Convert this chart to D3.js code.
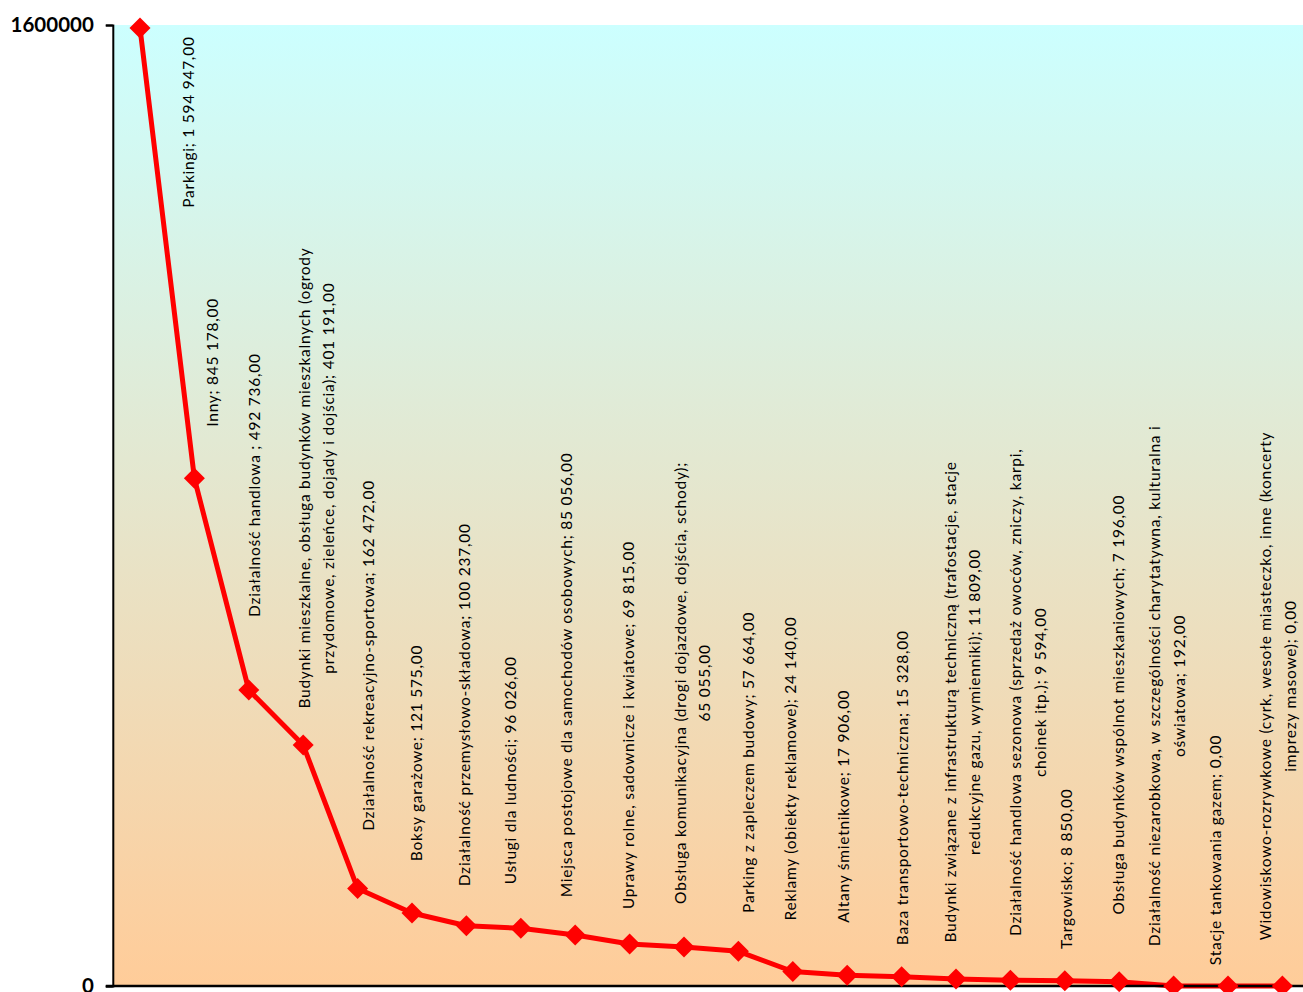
<!DOCTYPE html>
<html>
<head>
<meta charset="utf-8">
<script src="https://cdn.jsdelivr.net/npm/d3@7"></script>
<style>
  html, body { margin: 0; padding: 0; background: #ffffff; }
  svg { display: block; }
</style>
</head>
<body>
<svg id="chart" width="1303" height="992"></svg>
<script>
// ---------------- data ----------------
const categories = [
  "Parkingi",
  "Inny",
  "Działalność handlowa ",
  "Budynki mieszkalne, obsługa budynków mieszkalnych (ogrody przydomowe, zieleńce, dojady i dojścia)",
  "Działalność rekreacyjno-sportowa",
  "Boksy garażowe",
  "Działalność przemysłowo-składowa",
  "Usługi dla ludności",
  "Miejsca postojowe dla samochodów osobowych",
  "Uprawy rolne, sadownicze i kwiatowe",
  "Obsługa komunikacyjna (drogi dojazdowe, dojścia, schody)",
  "Parking z zapleczem budowy",
  "Reklamy (obiekty reklamowe)",
  "Altany śmietnikowe",
  "Baza transportowo-techniczna",
  "Budynki związane z infrastrukturą techniczną (trafostacje, stacje redukcyjne gazu, wymienniki)",
  "Działalność handlowa sezonowa (sprzedaż owoców, zniczy, karpi, choinek itp.)",
  "Targowisko",
  "Obsługa budynków wspólnot mieszkaniowych",
  "Działalność niezarobkowa, w szczególności charytatywna, kulturalna i oświatowa",
  "Stacje tankowania gazem",
  "Widowiskowo-rozrywkowe (cyrk, wesołe miasteczko, inne (koncerty imprezy masowe)"
];
const values = [
  1594947, 845178, 492736, 401191, 162472, 121575, 100237, 96026, 85056,
  69815, 65055, 57664, 24140, 17906, 15328, 11809, 9594, 8850, 7196, 192, 0, 0
];
const yTicks = [0, 1600000];

// word after which a data label wraps to a second line ("" = one line)
const breakAfter = [
  "", "", "", "(ogrody", "", "", "", "", "", "", "schody);", "", "", "", "",
  "stacje", "karpi,", "", "", "i", "", "(koncerty"
];

// ---------------- layout ----------------
const W = 1303, H = 992;
const plotLeft = 112.8, plotTop = 25, plotBottom = 986;
const band = 54.4;
const plotRight = plotLeft + band * categories.length;
// label block centre offset from its point (px)
const labelOffset = [
  [48, 94], [18, -116], [5, -205], [13, -267], [10, -233], [4, -160],
  [-2, -221], [-11, -158], [-9, -260], [-2, -219], [8, -264], [10, -189],
  [-3, -203], [-4, -169], [0, -189], [6, -277], [17, -288], [1, -112],
  [-1, -277], [-7, -300], [-13, -136], [-5, -300]
];
const lineGap = 24.5;
const labelFont = "Lato, 'Open Sans', sans-serif";

const svg = d3.select("#chart");

const x = d3.scaleBand().domain(d3.range(categories.length))
  .range([plotLeft, plotRight]).padding(0);
const y = d3.scaleLinear().domain([0, 1600000]).range([plotBottom, plotTop]);
const cx = i => x(i) + x.bandwidth() / 2;

// background gradient
const defs = svg.append("defs");
const grad = defs.append("linearGradient").attr("id", "bg")
  .attr("x1", 0).attr("y1", 0).attr("x2", 0).attr("y2", 1);
grad.append("stop").attr("offset", "0%").attr("stop-color", "#CCFFFF");
grad.append("stop").attr("offset", "100%").attr("stop-color", "#FFCC99");

svg.append("rect")
  .attr("x", plotLeft).attr("y", plotTop)
  .attr("width", plotRight - plotLeft).attr("height", plotBottom - plotTop)
  .attr("fill", "url(#bg)");

// data labels
const fmtLocale = d3.formatLocale({decimal: ",", thousands: "\u00a0", grouping: [3], currency: ["", ""]});
const fmt = fmtLocale.format(",.2f");

const labelsG = svg.append("g");
categories.forEach((c, i) => {
  const full = c + "; " + fmt(values[i]).replace(/\u00a0/g, " ");
  let lines = [full];
  if (breakAfter[i]) {
    const words = full.split(" ");
    const k = words.indexOf(breakAfter[i]);
    lines = [words.slice(0, k + 1).join(" "), words.slice(k + 1).join(" ")];
  }
  const px = cx(i) + labelOffset[i][0];
  const py = y(values[i]) + labelOffset[i][1];
  const t = labelsG.append("text")
    .attr("transform", `translate(${px},${py}) rotate(-90)`)
    .attr("text-anchor", "middle")
    .attr("font-family", labelFont)
    .attr("font-size", 15.5)
    .attr("letter-spacing", 0.75)
    .attr("fill", "#000");
  lines.forEach((ln, j) => {
    t.append("tspan")
      .attr("x", 0)
      .attr("y", (j - (lines.length - 1) / 2) * lineGap)
      .attr("dominant-baseline", "central")
      .text(ln);
  });
});

// line
const line = d3.line().x((d, i) => cx(i)).y(d => y(d));
svg.append("path")
  .datum(values)
  .attr("d", line)
  .attr("fill", "none")
  .attr("stroke", "#FF0000")
  .attr("stroke-width", 5)
  .attr("stroke-linejoin", "round");

// axes
const yAxis = d3.axisLeft(y).tickValues(yTicks).tickSize(7).tickPadding(12)
  .tickFormat(d3.format("d"));
const gy = svg.append("g").attr("transform", `translate(${plotLeft},0)`).call(yAxis);
gy.select(".domain").attr("stroke", "#000").attr("stroke-width", 2);
gy.selectAll(".tick line").attr("stroke", "#000").attr("stroke-width", 2);
gy.selectAll(".tick text")
  .attr("font-family", "Lato, sans-serif")
  .attr("font-weight", "bold")
  .attr("font-size", 20.5)
  .attr("dy", "0.3em")
  .attr("fill", "#000");

svg.append("line")
  .attr("x1", plotLeft - 7).attr("x2", W)
  .attr("y1", y(0)).attr("y2", y(0))
  .attr("stroke", "#000").attr("stroke-width", 2.5);

// markers (diamonds)
const r = 10.5;
svg.append("g").selectAll("path")
  .data(values)
  .join("path")
  .attr("transform", (d, i) => `translate(${cx(i)},${y(d)})`)
  .attr("d", `M0,${-r}L${r},0L0,${r}L${-r},0Z`)
  .attr("fill", "#FF0000");
</script>
</body>
</html>
